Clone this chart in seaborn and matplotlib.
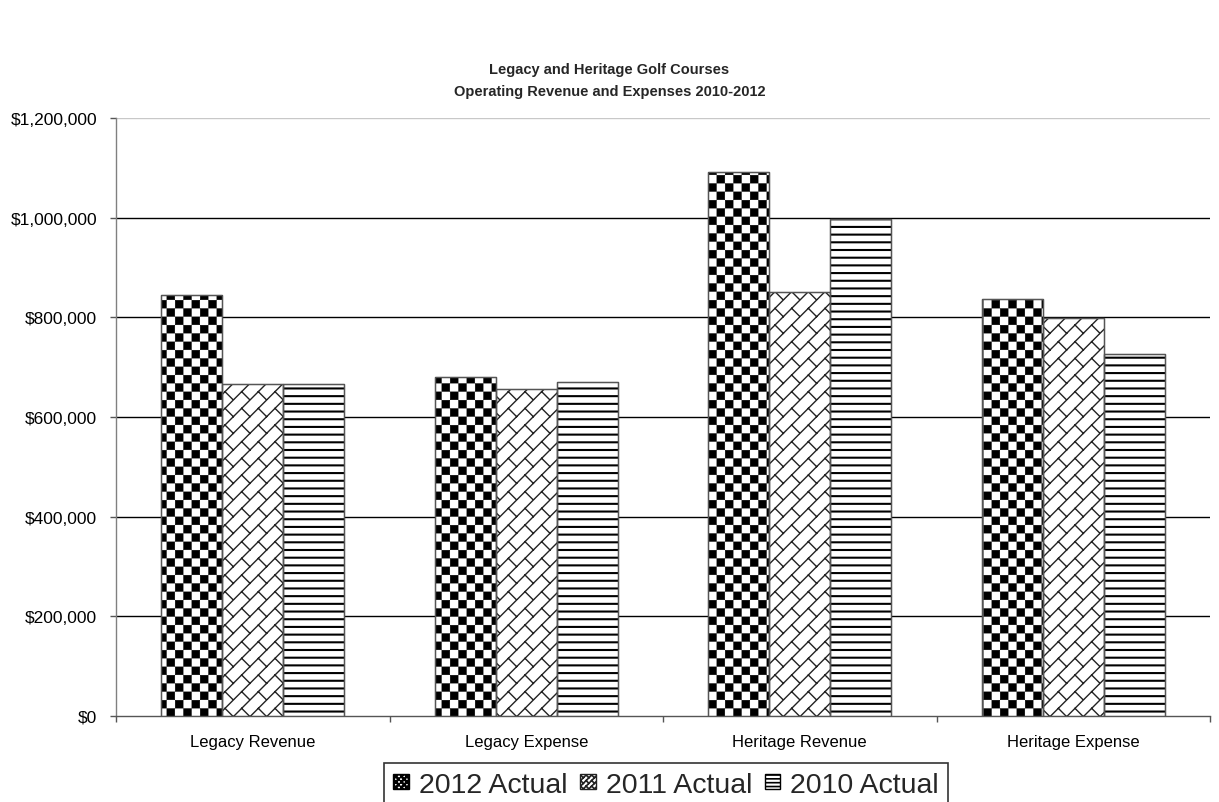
import numpy as np
import pandas as pd
import matplotlib
matplotlib.use("Agg")
import matplotlib.pyplot as plt
import matplotlib.hatch as mhatch
from matplotlib.path import Path
from matplotlib.ticker import FuncFormatter, FixedLocator
import seaborn as sns

# ---- data -----------------------------------------------------------------
categories = ["Legacy Revenue", "Legacy Expense", "Heritage Revenue", "Heritage Expense"]
series_names = ["2012 Actual", "2011 Actual", "2010 Actual"]
actual_2012 = [845000, 680000, 1091000, 836000]
actual_2011 = [667000, 657000, 850000, 798000]
actual_2010 = [666000, 671000, 998000, 727000]
y_ticks = [0, 200000, 400000, 600000, 800000, 1000000, 1200000]
title_lines = ["Legacy and Heritage Golf Courses",
               "Operating Revenue and Expenses 2010-2012"]


# ---- fill patterns (one hatch unit = 1 inch tile) ---------------------------
class CheckerHatch(mhatch.HatchPatternBase):
    """Filled checkerboard, triggered by '*'."""
    def __init__(self, hatch, density):
        self.n = hatch.count('*') * 6          # checker periods per tile
        self.num_vertices = 2 * self.n * self.n * 5 if self.n else 0

    def set_vertices_and_codes(self, vertices, codes):
        m = 2 * self.n
        s = 1.0 / m
        inset = 0.002
        k = 0
        for i in range(m):
            for j in range(m):
                if (i + j) % 2:
                    continue
                x0, y0 = i * s + inset, j * s + inset
                x1, y1 = (i + 1) * s - inset, (j + 1) * s - inset
                vertices[k:k + 5] = [(x0, y0), (x1, y0), (x1, y1), (x0, y1), (x0, y0)]
                codes[k:k + 5] = [Path.MOVETO, Path.LINETO, Path.LINETO,
                                  Path.LINETO, Path.CLOSEPOLY]
                k += 5


class DiagonalBrickHatch(mhatch.HatchPatternBase):
    """Upward diagonals joined by short downward ticks, triggered by 'o'."""
    def __init__(self, hatch, density):
        self.n = hatch.count('o') * 6
        if self.n:
            self.num_vertices = 2 * (2 * self.n + 1) + 2 * self.n * self.n
        else:
            self.num_vertices = 0

    def set_vertices_and_codes(self, vertices, codes):
        n = self.n
        c = 1.0 / n
        k = 0
        for i in range(-n, n + 1):
            vertices[k] = (i * c, 0.0)
            vertices[k + 1] = (i * c + 1.0, 1.0)
            codes[k] = Path.MOVETO
            codes[k + 1] = Path.LINETO
            k += 2
        for i in range(n):
            for j in range(n):
                x0, y0 = i * c, j * c
                vertices[k] = (x0 + c / 2, y0 + c / 2)
                vertices[k + 1] = (x0 + c, y0)
                codes[k] = Path.MOVETO
                codes[k + 1] = Path.LINETO
                k += 2


class HorizontalLinesHatch(mhatch.HatchPatternBase):
    """Evenly spaced horizontal rules, triggered by '-'."""
    def __init__(self, hatch, density):
        self.n = hatch.count('-') * 13
        self.num_vertices = 2 * self.n

    def set_vertices_and_codes(self, vertices, codes):
        ys = (np.arange(self.n) + 0.5) / self.n
        vertices[0::2, 0] = 0.0
        vertices[1::2, 0] = 1.0
        vertices[0::2, 1] = ys
        vertices[1::2, 1] = ys
        codes[0::2] = Path.MOVETO
        codes[1::2] = Path.LINETO


mhatch._hatch_types[:] = [CheckerHatch, DiagonalBrickHatch, HorizontalLinesHatch]

# ---- styling ----------------------------------------------------------------
sns.set_theme(style="white")
plt.rcParams["font.family"] = ["Liberation Sans", "DejaVu Sans"]
plt.rcParams["hatch.linewidth"] = 1.2

df = pd.DataFrame({
    "category": categories * 3,
    "series": np.repeat(series_names, len(categories)),
    "value": actual_2012 + actual_2011 + actual_2010,
})

fig = plt.figure(figsize=(12.19, 8.03), dpi=100)
ax = fig.add_axes([116 / 1219, 1 - 717 / 803, (1210 - 116) / 1219, (717 - 119) / 803])

sns.barplot(data=df, x="category", y="value", hue="series",
            order=categories, hue_order=series_names,
            palette={s: "white" for s in series_names},
            width=0.67, errorbar=None, legend=False, ax=ax, zorder=3)

patterns = ["*", "o", "-"]
edge_colors = ["#000000", "#222222", "#000000"]
hatch_widths = [0.3, 1.0, 1.5]
outline = "#555555"
for cont, pat, ec, hw in zip(ax.containers, patterns, edge_colors, hatch_widths):
    for bar in cont.patches:
        bar.set_facecolor("white")
        bar.set_edgecolor(ec)
        bar.set_hatch(pat)
        if hasattr(bar, "set_hatch_linewidth"):
            bar.set_hatch_linewidth(hw)
        bar.set_linewidth(0.8)
        bar.set_zorder(3)

# outline each bar in a soft gray on top of the pattern
for cont in ax.containers:
    for bar in cont.patches:
        x, y = bar.get_xy()
        ax.add_patch(plt.Rectangle((x, y), bar.get_width(), bar.get_height(),
                                   fill=False, edgecolor=outline, linewidth=1.0,
                                   zorder=4))

ax.set_xlim(-0.5, len(categories) - 0.5)
ax.set_ylim(0, y_ticks[-1])
ax.set_yticks(y_ticks)
ax.yaxis.set_major_formatter(FuncFormatter(lambda v, p: f"${v:,.0f}"))
ax.set_xlabel("")
ax.set_ylabel("")

# horizontal gridlines
for v in y_ticks[1:]:
    ax.axhline(v, color="#c8c8c8" if v == y_ticks[-1] else "#000000",
               linewidth=1.0, zorder=1)

for side in ["top", "right"]:
    ax.spines[side].set_visible(False)
ax.spines["left"].set_color("#808080")
ax.spines["left"].set_linewidth(1.0)
ax.spines["bottom"].set_color("#555555")
ax.spines["bottom"].set_linewidth(1.0)

ax.tick_params(axis="y", direction="out", length=4.5, width=1.0, color="#555555",
               labelsize=12.5, pad=9, left=True)
ax.tick_params(axis="x", which="major", length=0, labelsize=12, pad=13)
ax.xaxis.set_minor_locator(FixedLocator(np.arange(-0.5, len(categories), 1.0)))
ax.tick_params(axis="x", which="minor", direction="out", length=4, width=1.0,
               color="#555555", bottom=True)
for lbl in ax.get_yticklabels() + ax.get_xticklabels():
    lbl.set_color("#000000")

# title
fig.text(0.5, 1 - 70 / 803, title_lines[0], ha="center", va="center",
         fontsize=10.5, fontweight="bold")
fig.text(0.5, 1 - 92 / 803, title_lines[1], ha="center", va="center",
         fontsize=10.5, fontweight="bold")

# legend
handles = [cont.patches[0] for cont in ax.containers]
leg = fig.legend(handles, series_names, loc="upper center",
                 bbox_to_anchor=(666 / 1219, 1 - 764 / 803),
                 ncol=3, fontsize=20.5, frameon=True, fancybox=False,
                 borderaxespad=0, handlelength=0.55, handleheight=0.45,
                 handletextpad=0.35, columnspacing=0.45, borderpad=0.3)
leg.get_frame().set_edgecolor("#000000")
leg.get_frame().set_linewidth(1.2)
for h, pat in zip(leg.legend_handles, ["***", "ooo", "--"]):
    h.set_hatch(pat)
    h.set_linewidth(1.0)

fig.savefig("out.png", dpi=100)
